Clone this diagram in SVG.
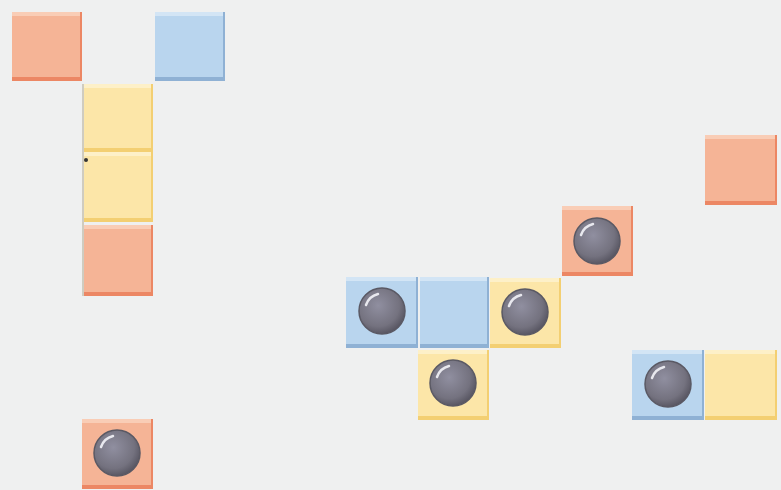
<svg xmlns="http://www.w3.org/2000/svg" width="781" height="490" viewBox="0 0 781 490">
<defs>
<radialGradient id="ball" cx="0.42" cy="0.38" r="0.65">
<stop offset="0" stop-color="#908fa0"/>
<stop offset="0.7" stop-color="#74727f"/>
<stop offset="1" stop-color="#55535f"/>
</radialGradient>
<g id="b">
<circle cx="0" cy="0" r="23" fill="url(#ball)" stroke="#5a5964" stroke-width="1.5"/>
<path d="M-16,-6 A17,17 0 0 1 -4,-17" fill="none" stroke="#e8e8ee" stroke-width="2.5" stroke-linecap="round"/>
</g>
</defs>
<style>
.o{fill:#f5b496}.oe{fill:#ec8764}.ol{fill:#f9cdb6}
.u{fill:#b9d5ee}.ue{fill:#8fb1d4}.ul{fill:#d3e5f5}
.y{fill:#fce6a8}.ye{fill:#f3cf72}.yl{fill:#fdf0c8}
</style>
<rect width="781" height="490" fill="#eff0f0"/>
<g id="t1"><rect x="12" y="12" width="70" height="69" class="oe"/><rect x="12" y="12" width="68" height="65" class="o"/><rect x="12" y="12" width="68" height="4" class="ol"/></g>
<g id="t2"><rect x="155" y="12" width="70" height="69" class="ue"/><rect x="155" y="12" width="68" height="65" class="u"/><rect x="155" y="12" width="68" height="4" class="ul"/></g>
<g id="t3"><rect x="84" y="84" width="69" height="68" class="ye"/><rect x="84" y="84" width="67" height="64" class="y"/><rect x="84" y="84" width="67" height="4" class="yl"/></g>
<g id="t4"><rect x="84" y="152" width="69" height="70" class="ye"/><rect x="84" y="152" width="67" height="66" class="y"/><rect x="84" y="152" width="67" height="4" class="yl"/></g>
<circle cx="86" cy="160" r="2" fill="#333"/>
<line x1="83" y1="84" x2="83" y2="296" stroke="#b0a890" stroke-width="1"/>
<g id="t5"><rect x="84" y="225" width="69" height="71" class="oe"/><rect x="84" y="225" width="67" height="67" class="o"/><rect x="84" y="225" width="67" height="4" class="ol"/></g>
<g id="t6"><rect x="705" y="135" width="72" height="70" class="oe"/><rect x="705" y="135" width="70" height="66" class="o"/><rect x="705" y="135" width="70" height="4" class="ol"/></g>
<g id="t7"><rect x="562" y="206" width="71" height="70" class="oe"/><rect x="562" y="206" width="69" height="66" class="o"/><rect x="562" y="206" width="69" height="4" class="ol"/><use href="#b" x="597" y="241"/></g>
<g id="t8"><rect x="346" y="277" width="72" height="71" class="ue"/><rect x="346" y="277" width="70" height="67" class="u"/><rect x="346" y="277" width="70" height="4" class="ul"/><use href="#b" x="382" y="311"/></g>
<g id="t9"><rect x="420" y="277" width="69" height="71" class="ue"/><rect x="420" y="277" width="67" height="67" class="u"/><rect x="420" y="277" width="67" height="4" class="ul"/></g>
<g id="t10"><rect x="490" y="278" width="71" height="70" class="ye"/><rect x="490" y="278" width="69" height="66" class="y"/><rect x="490" y="278" width="69" height="4" class="yl"/><use href="#b" x="525" y="312"/></g>
<g id="t11"><rect x="418" y="350" width="71" height="70" class="ye"/><rect x="418" y="350" width="69" height="66" class="y"/><rect x="418" y="350" width="69" height="4" class="yl"/><use href="#b" x="453" y="383"/></g>
<g id="t12"><rect x="632" y="350" width="72" height="70" class="ue"/><rect x="632" y="350" width="70" height="66" class="u"/><rect x="632" y="350" width="70" height="4" class="ul"/><use href="#b" x="668" y="384"/></g>
<g id="t13"><rect x="705" y="350" width="72" height="70" class="ye"/><rect x="705" y="350" width="70" height="66" class="y"/><rect x="705" y="350" width="70" height="4" class="yl"/></g>
<g id="t14"><rect x="82" y="419" width="71" height="70" class="oe"/><rect x="82" y="419" width="69" height="66" class="o"/><rect x="82" y="419" width="69" height="4" class="ol"/><use href="#b" x="117" y="453"/></g>
</svg>
